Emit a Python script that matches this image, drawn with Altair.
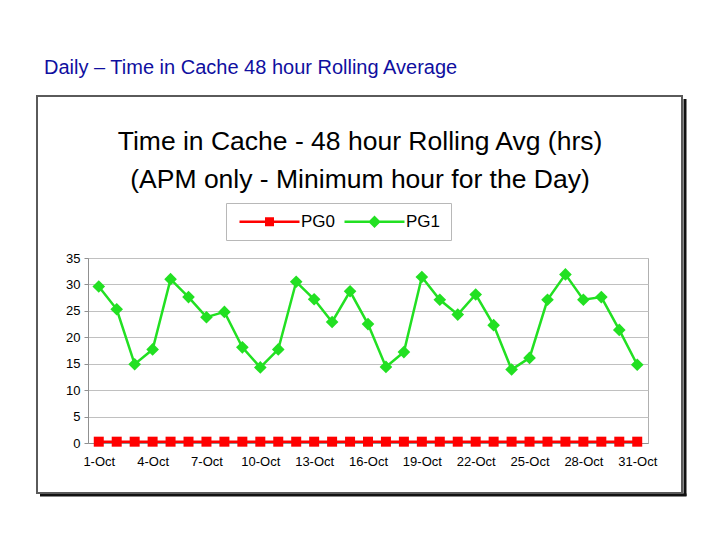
import altair as alt
import pandas as pd

# ---- data ----
days = ["1-Oct", "2-Oct", "3-Oct", "4-Oct", "5-Oct", "6-Oct", "7-Oct", "8-Oct",
        "9-Oct", "10-Oct", "11-Oct", "12-Oct", "13-Oct", "14-Oct", "15-Oct",
        "16-Oct", "17-Oct", "18-Oct", "19-Oct", "20-Oct", "21-Oct", "22-Oct",
        "23-Oct", "24-Oct", "25-Oct", "26-Oct", "27-Oct", "28-Oct", "29-Oct",
        "30-Oct", "31-Oct"]
pg0 = [0.25, 0.25, 0.25, 0.25, 0.25, 0.25, 0.25, 0.25, 0.25, 0.25, 0.25,
       0.25, 0.25, 0.25, 0.25, 0.25, 0.25, 0.25, 0.25, 0.25, 0.25, 0.25,
       0.25, 0.25, 0.25, 0.25, 0.25, 0.25, 0.25, 0.25, 0.25]
pg1 = [29.6, 25.3, 14.9, 17.7, 31.0, 27.6, 23.8, 24.8, 18.1, 14.3, 17.7,
       30.5, 27.2, 22.9, 28.7, 22.5, 14.4, 17.2, 31.4, 27.1, 24.3, 28.1,
       22.3, 13.9, 16.1, 27.1, 31.9, 27.1, 27.6, 21.4, 14.8]
series_names = ["PG0", "PG1"]
series_colors = ["#FF0000", "#22E022"]
x_tick_labels = days[::3]
y_ticks = [0, 5, 10, 15, 20, 25, 30, 35]

page_title = "Daily \u2013 Time in Cache 48 hour Rolling Average"
chart_title_1 = "Time in Cache - 48 hour Rolling Avg (hrs)"
chart_title_2 = "(APM only - Minimum hour for the Day)"

FONT = "Liberation Sans"

# legend symbols: line with a marker on it (unit coords, scaled by sqrt(size)/2)
legend_symbols = [
    "M-6,-0.25H6V0.25H-6Z M-0.9,-0.9H0.9V0.9H-0.9Z",
    "M-6,-0.25H6V0.25H-6Z M0,-1.25L1.25,0L0,1.25L-1.25,0Z",
]

rows = []
for name, vals in zip(series_names, [pg0, pg1]):
    for d, v in zip(days, vals):
        rows.append({"day": d, "series": name, "value": v})
df = pd.DataFrame(rows)

one = pd.DataFrame({"a": [0]})

x_enc = alt.X("day:N", sort=days, title=None,
              scale=alt.Scale(type="point", padding=0.6),
              axis=alt.Axis(values=x_tick_labels, labelAngle=0, ticks=False,
                            labelPadding=12, labelFontSize=13, labelFont=FONT,
                            labelColor="#000000", domainColor="#909090",
                            grid=False))
y_enc = alt.Y("value:Q", title=None,
              scale=alt.Scale(domain=[0, 35], nice=False),
              axis=alt.Axis(values=y_ticks, labelFontSize=13, labelFont=FONT,
                            labelColor="#000000", domainColor="#909090",
                            tickColor="#909090", tickSize=4, labelPadding=4,
                            gridColor="#C0C0C0", gridWidth=1))
# data-driven domain (sorted: PG0, PG1)
color_enc = alt.Color("series:N", scale=alt.Scale(range=series_colors),
                      legend=None)

# ---- decorations (frame, shadow, titles) ----
shadow_r = alt.Chart(one).mark_rule(color="#111111", strokeWidth=3).encode(
    x=alt.value(597), y=alt.value(-159), y2=alt.value(238))
shadow_b = alt.Chart(one).mark_rule(color="#111111", strokeWidth=3).encode(
    x=alt.value(-48), x2=alt.value(598.5), y=alt.value(237))
box = alt.Chart(one).mark_rect(fill=None, stroke="#5a5a5a", strokeWidth=2).encode(
    x=alt.value(-51), x2=alt.value(594), y=alt.value(-162), y2=alt.value(235))
t0 = alt.Chart(one).mark_text(text=page_title, align="left", baseline="alphabetic",
                              font=FONT, fontSize=20, color="#0F0F9F").encode(
    x=alt.value(-44), y=alt.value(-184))
t1 = alt.Chart(one).mark_text(text=chart_title_1, align="center", baseline="alphabetic",
                              font=FONT, fontSize=26.5, color="#000000").encode(
    x=alt.value(272), y=alt.value(-108))
t2 = alt.Chart(one).mark_text(text=chart_title_2, align="center", baseline="alphabetic",
                              font=FONT, fontSize=26.5, color="#000000").encode(
    x=alt.value(272), y=alt.value(-70))

# ---- data layers ----
lines = alt.Chart(df).mark_line(strokeWidth=2.5).encode(
    x=x_enc, y=y_enc, color=color_enc, detail="series:N")

pts0 = alt.Chart(df).transform_filter(alt.datum.series == "PG0").mark_point(
    filled=True, opacity=1, shape="square", size=100).encode(
    x=x_enc, y=y_enc, color=color_enc)
pts1 = alt.Chart(df).transform_filter(alt.datum.series == "PG1").mark_point(
    filled=True, opacity=1, shape="diamond", size=160).encode(
    x=x_enc, y=y_enc, color=color_enc)

legend_cfg = alt.Legend(orient="none", legendX=138, legendY=-55,
                        direction="horizontal", title=None,
                        symbolSize=100, symbolStrokeWidth=0,
                        symbolOffset=25, symbolOpacity=1,
                        labelFontSize=17, labelFont=FONT, labelColor="#000000",
                        labelOffset=23, columnPadding=5, padding=10,
                        strokeColor="#B8B8B8")
legend_layer = alt.Chart(alt.Data(values=[])).mark_point(filled=True).encode(
    fill=alt.Fill("Series:N",
                  scale=alt.Scale(domain=series_names, range=series_colors),
                  legend=legend_cfg),
    shape=alt.Shape("Series:N",
                    scale=alt.Scale(domain=series_names, range=legend_symbols),
                    legend=legend_cfg))

chart = alt.layer(shadow_r, shadow_b, box, t0, t1, t2, lines, pts0, pts1,
                  legend_layer).properties(
    width=560, height=185,
    autosize=alt.AutoSizeParams(type="none"),
    padding={"left": 80, "top": 250, "right": 60, "bottom": 80},
    background="white",
).configure_view(stroke="#B0B0B0")

chart.save("out.html", embed_options={"renderer": "svg", "actions": False})
